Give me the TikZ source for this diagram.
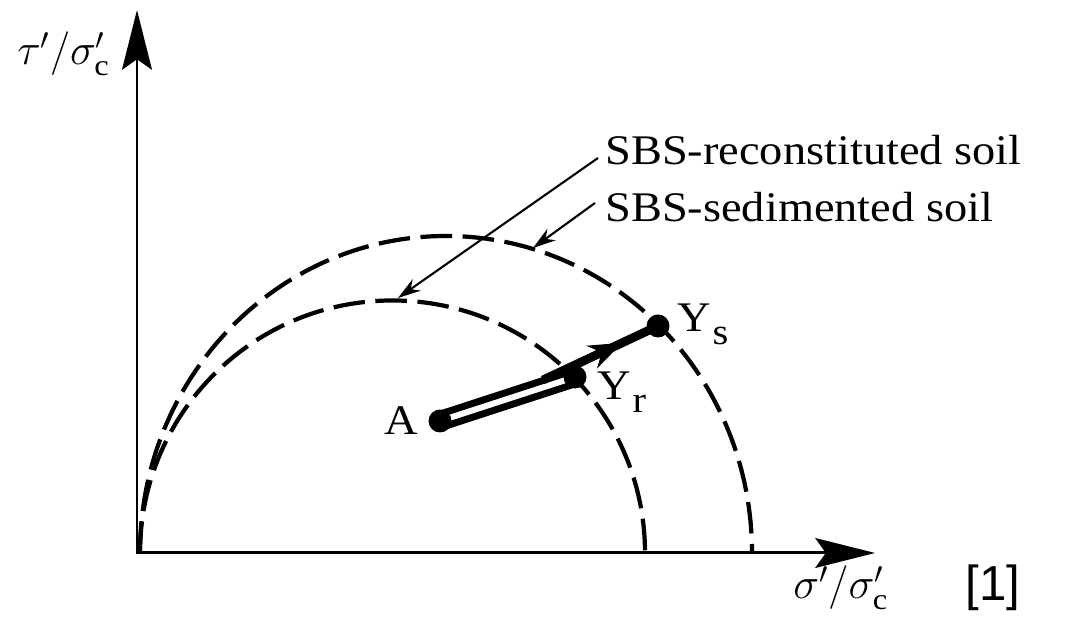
\documentclass[tikz,border=0pt]{standalone}
\usepackage{fontspec}
\setmainfont{Liberation Serif}[FakeStretch=1.1]
\newfontfamily\arialf{Liberation Sans}
\usetikzlibrary{arrows.meta,decorations.markings}
\begin{document}
\begin{tikzpicture}[x=0.02cm,y=0.02cm,
  axis/.style={line width=1.7pt, line cap=rect, -{Stealth[length=34pt,width=17pt,inset=6pt]}},
  envelope/.style={line width=2.4pt, dash pattern=on 18pt off 6pt},
  leader/.style={line width=1.2pt, -{Stealth[length=13pt,width=8pt]}},
  dot/.style={circle, fill, inner sep=0pt, minimum size=0.46cm},
  lbl/.style={inner sep=0pt, font=\fontsize{24}{28}\selectfont},
  band/.style={line width=4pt, double=white, double distance=3.4pt},
  pathline/.style={line width=5pt, decoration={markings, mark=at position 0.69 with {\arrow{Stealth[length=19pt,width=14pt]}}}, postaction={decorate}},
]
\useasboundingbox (0,0) rectangle (1066,617);
\coordinate (O) at (137,64);
\coordinate (Ytip) at (137,607);
\coordinate (Xtip) at (875,64);
% failure envelopes
\draw[envelope] (140,64) arc[start angle=180,end angle=0,radius=252.5];
\draw[envelope] (140,64) arc[start angle=180,end angle=0,x radius=306,y radius=317];
% axes
\draw[axis] (O) -- (Ytip);
\draw[axis] (O) -- (Xtip);
% legend
\node[lbl, anchor=base west] (recon) at (605,452) {SBS-reconstituted soil};
\node[lbl, anchor=base west] (sedim) at (605,395) {SBS-sedimented soil};
\coordinate (rS) at (598,459);
\coordinate (rE) at (398,319);
\coordinate (sS) at (595,414);
\coordinate (sE) at (533,369);
\draw[leader] (rS) -- (rE);
\draw[leader] (sS) -- (sE);
% stress paths
\coordinate (a) at (440,196);
\coordinate (yr) at (575,240);
\coordinate (ys) at (658,291);
\coordinate (u) at (543,237);
\draw[band] (a) -- (yr);
\draw[pathline] (u) -- (ys);
\node[dot] (A) at (a) {};
\node[dot] (Yr) at (yr) {};
\node[dot] (Ys) at (ys) {};
\node[lbl, anchor=base west] (Alab) at (384,182) {A};
\node[lbl, anchor=base west] (Yrlab) at (597,217) {Y\kern1pt\raisebox{-7pt}{\fontsize{21}{21}\selectfont r}};
\node[lbl, anchor=base west] (Yslab) at (677,285) {Y\kern1pt\raisebox{-7pt}{\fontsize{21}{21}\selectfont s}};
% axis labels
\node[anchor=base west, inner sep=0pt, font=\fontsize{24}{28}\selectfont] (ylab) at (17,552) {$\tau'/\sigma'_{\mathrm{c}}$};
\node[anchor=base west, inner sep=0pt, font=\fontsize{24}{28}\selectfont] (xlab) at (793,18) {$\sigma'/\sigma'_{\mathrm{c}}$};
\node[anchor=base west, inner sep=0pt, font=\arialf\fontsize{28}{32}\selectfont] (ref) at (965,16) {[1]};
\end{tikzpicture}
\end{document}
